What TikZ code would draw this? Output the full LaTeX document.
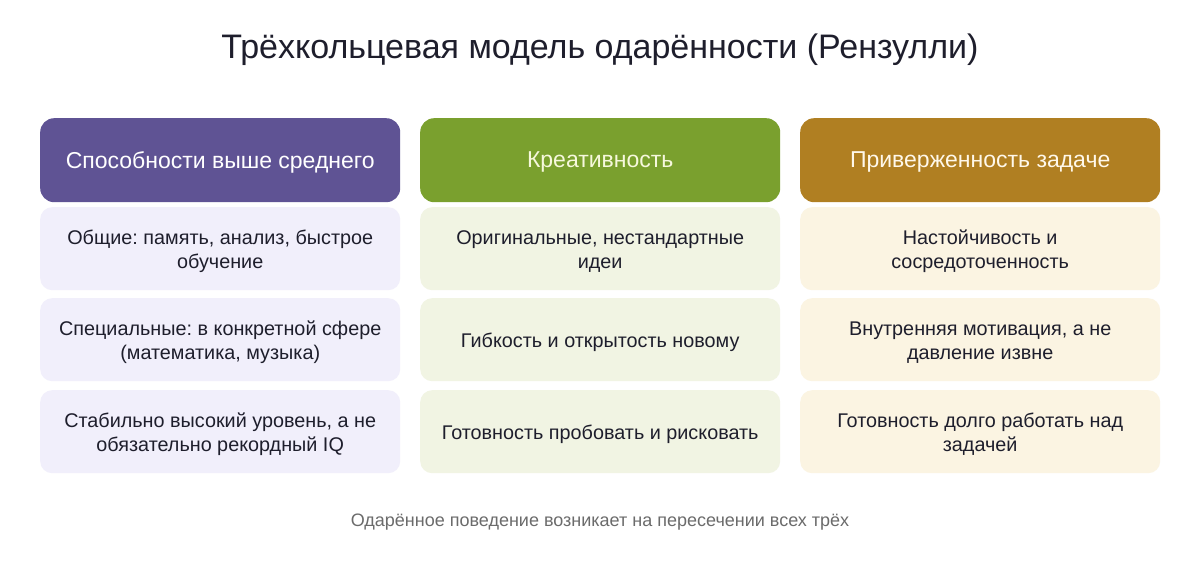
\documentclass[tikz,border=0pt]{standalone}
\usepackage{fontspec}
\setmainfont{Liberation Sans}
\definecolor{txt}{HTML}{1E1E2C}
\definecolor{hA}{HTML}{5F5394}
\definecolor{hB}{HTML}{7AA02E}
\definecolor{hC}{HTML}{B07F22}
\definecolor{tB}{HTML}{F6F8DC}
\definecolor{tC}{HTML}{FFF8EA}
\definecolor{cA}{HTML}{F1EFFB}
\definecolor{cB}{HTML}{F1F4E3}
\definecolor{cC}{HTML}{FBF4E2}
\definecolor{ftxt}{HTML}{6B6B6B}
\begin{document}
\frenchspacing
\begin{tikzpicture}[x=1pt,y=-1pt,
  hdr/.style={rounded corners=14pt, minimum width=360pt, minimum height=84pt, anchor=north west, inner sep=0pt},
  hdrtxt/.style={font=\fontsize{23}{27}\selectfont, inner sep=0pt, yshift=-2pt},
  cell/.style={rounded corners=12pt, minimum width=360pt, minimum height=83pt, anchor=north west, inner sep=0pt},
  celltxt/.style={align=center, font=\fontsize{19.8}{24}\selectfont, text=txt, inner sep=0pt, yshift=-3pt},
]
\useasboundingbox[fill=white] (0,0) rectangle (1200,562);
\node[font=\fontsize{34}{40}\selectfont, text=txt] (title) at (600,50) {Трёхкольцевая модель одарённости (Рензулли)};
\node[hdr, fill=hA] (hA) at (40,118) {};
\node[hdr, fill=hB] (hB) at (420,118) {};
\node[hdr, fill=hC] (hC) at (800,118) {};
\node[hdrtxt, text=white] (hAt) at (hA.center) {Способности выше среднего};
\node[hdrtxt, text=tB] (hBt) at (hB.center) {Креативность};
\node[hdrtxt, text=tC] (hCt) at (hC.center) {Приверженность задаче};
\node[cell, fill=cA] (a1) at (40,207) {};
\node[cell, fill=cA] (a2) at (40,298) {};
\node[cell, fill=cA] (a3) at (40,390) {};
\node[cell, fill=cB] (b1) at (420,207) {};
\node[cell, fill=cB] (b2) at (420,298) {};
\node[cell, fill=cB] (b3) at (420,390) {};
\node[cell, fill=cC] (c1) at (800,207) {};
\node[cell, fill=cC] (c2) at (800,298) {};
\node[cell, fill=cC] (c3) at (800,390) {};
\node[celltxt] (a1t) at (a1.center) {Общие: память, анализ, быстрое\\обучение};
\node[celltxt] (a2t) at (a2.center) {Специальные: в конкретной сфере\\(математика, музыка)};
\node[celltxt] (a3t) at (a3.center) {Стабильно высокий уровень, а не\\обязательно рекордный IQ};
\node[celltxt] (b1t) at (b1.center) {Оригинальные, нестандартные\\идеи};
\node[celltxt] (b2t) at (b2.center) {Гибкость и открытость новому};
\node[celltxt] (b3t) at (b3.center) {Готовность пробовать и рисковать};
\node[celltxt] (c1t) at (c1.center) {Настойчивость и\\сосредоточенность};
\node[celltxt] (c2t) at (c2.center) {Внутренняя мотивация, а не\\давление извне};
\node[celltxt] (c3t) at (c3.center) {Готовность долго работать над\\задачей};
\node[font=\fontsize{18}{22}\selectfont, text=ftxt] (foot) at (600,522) {Одарённое поведение возникает на пересечении всех трёх};
\end{tikzpicture}
\end{document}
